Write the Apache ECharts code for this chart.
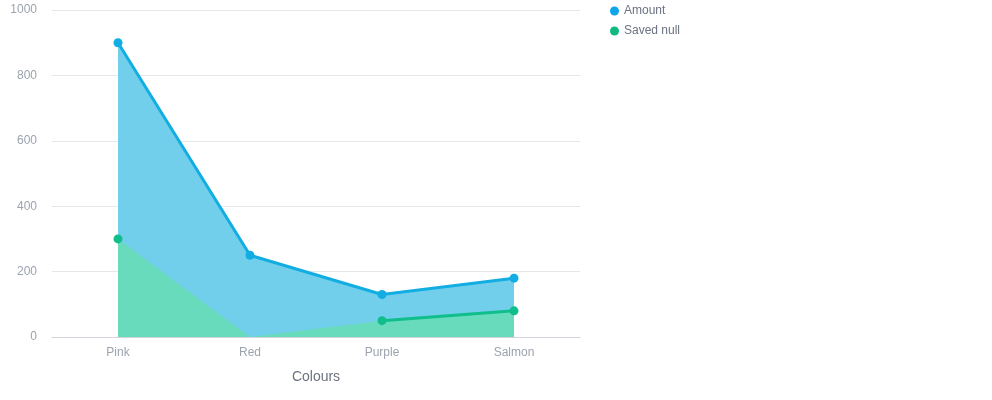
<!DOCTYPE html>
<html>
<head>
<meta charset="utf-8">
<script src="https://cdn.jsdelivr.net/npm/echarts@6/dist/echarts.min.js"></script>
<style>
  html, body { margin: 0; padding: 0; background: #fff; }
  #chart { width: 992px; height: 400px; }
</style>
</head>
<body>
<div id="chart"></div>
<script>
const categories = ['Pink', 'Red', 'Purple', 'Salmon'];
const amount = [900, 250, 130, 180];
const saved = [300, null, 50, 80];
const yTicks = [0, 200, 400, 600, 800, 1000];

// area under "Saved null" falls to zero where the value is missing
const savedArea = saved.map((v) => (v == null ? 0 : v));

const chart = echarts.init(document.getElementById('chart'));
const font = '"Liberation Sans", Arial, sans-serif';

chart.setOption({
  animation: false,
  textStyle: { fontFamily: font },
  grid: { left: 52, right: 412, top: 10, bottom: 63 },
  legend: {
    data: [
      { name: 'Amount', itemStyle: { color: '#0ea5e9' } },
      { name: 'Saved null', itemStyle: { color: '#10b981' } },
    ],
    orient: 'vertical',
    left: 605,
    top: 0,
    icon: 'circle',
    itemWidth: 9,
    itemHeight: 9,
    itemGap: 8,
    textStyle: { color: '#6b7280', fontSize: 12, fontFamily: font },
  },
  xAxis: {
    type: 'category',
    data: categories,
    boundaryGap: true,
    name: 'Colours',
    nameLocation: 'middle',
    nameGap: 33,
    nameTextStyle: { color: '#6b7280', fontSize: 14, fontFamily: font },
    axisLine: { lineStyle: { color: '#d1d5db' } },
    axisTick: { show: false },
    axisLabel: { color: '#9ca3af', fontSize: 12, margin: 10, fontFamily: font },
  },
  yAxis: {
    type: 'value',
    min: yTicks[0],
    max: yTicks[yTicks.length - 1],
    interval: 200,
    axisLine: { show: false },
    axisTick: { show: false },
    axisLabel: {
      color: '#9ca3af',
      fontSize: 12,
      margin: 15,
      fontFamily: font,
      padding: [2, 0, 0, 0],
      formatter: (v) => String(v),
    },
    splitLine: { lineStyle: { color: '#e5e7eb' } },
  },
  series: [
    {
      name: 'Amount',
      type: 'line',
      data: amount,
      symbol: 'circle',
      symbolSize: 9,
      itemStyle: { color: '#12ade2' },
      lineStyle: { color: '#12ade2', width: 3 },
      areaStyle: { color: '#72cfec', opacity: 1 },
      z: 2,
    },
    {
      name: 'Saved area',
      type: 'line',
      data: savedArea,
      symbol: 'none',
      lineStyle: { width: 0 },
      areaStyle: { color: '#68dbbd', opacity: 1 },
      silent: true,
      z: 3,
    },
    {
      name: 'Saved null',
      type: 'line',
      data: saved,
      symbol: 'circle',
      symbolSize: 9,
      connectNulls: false,
      itemStyle: { color: '#0fbe8a' },
      lineStyle: { color: '#0fbe8a', width: 3 },
      z: 4,
    },
  ],
});
</script>
</body>
</html>
